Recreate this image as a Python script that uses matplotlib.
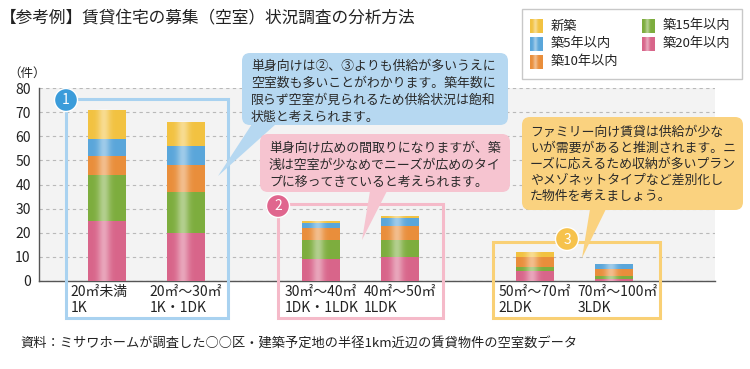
import numpy as np
import matplotlib
matplotlib.use('Agg')
import matplotlib.pyplot as plt
from matplotlib.patches import FancyBboxPatch, Rectangle, Circle, Polygon
import matplotlib.transforms as mtransforms

plt.rcParams['font.family'] = ['Noto Sans CJK JP', 'DejaVu Sans']

# data
categories = ['20㎡未満\n1K', '20㎡〜30㎡\n1K・1DK', '30㎡〜40㎡\n1DK・1LDK',
              '40㎡〜50㎡\n1LDK', '50㎡〜70㎡\n2LDK', '70㎡〜100㎡\n3LDK']
positions = [0, 1, 2.7, 3.7, 5.4, 6.4]
age20 = [25, 20, 9, 10, 4, 1]
age15 = [19, 17, 8, 7, 2, 1]
age10 = [8, 11, 5, 6, 4, 3]
age5 = [7, 8, 2, 3, 0, 2]
new = [12, 10, 1, 1, 2, 0]
series = [age20, age15, age10, age5, new]
series_names = ['築20年以内', '築15年以内', '築10年以内', '築5年以内', '新築']
colors = ['#d8658a', '#7dad3e', '#e98e3b', '#5aa6da', '#f2c241']
yticks = [0, 10, 20, 30, 40, 50, 60, 70, 80]

W, H = 750, 369
fig = plt.figure(figsize=(W / 100, H / 100), dpi=100)

def gloss(ax, x0, x1, y0, y1, z):
    t = np.linspace(0, 1, 80)
    a = 0.42 * np.exp(-((t - 0.42) / 0.16) ** 2)
    img = np.ones((1, 80, 4))
    img[0, :, 3] = a
    ax.imshow(img, extent=[x0, x1, y0, y1], aspect='auto', zorder=z,
              interpolation='bilinear')

# main chart
ax = fig.add_axes([39 / W, 1 - 281 / H, (715 - 39) / W, (281 - 88) / H])
ax.set_facecolor('#f3f3f3')
bw = 0.48
bottom = np.zeros(len(positions))
for vals, c in zip(series, colors):
    ax.bar(positions, vals, bw, bottom=bottom, color=c, zorder=3, linewidth=0)
    bottom += np.array(vals)
for p, tot in zip(positions, bottom):
    gloss(ax, p - bw / 2, p + bw / 2, 0, tot, 4)

ax.set_xlim(-0.86, 7.68)
ax.set_ylim(0, 80)
ax.set_yticks(yticks)
ax.set_xticks([])
ax.yaxis.grid(True, color='#b9b9b9', linestyle=(0, (3, 3)), linewidth=0.8)
ax.set_axisbelow(True)
for s in ['top', 'right']:
    ax.spines[s].set_visible(False)
for s in ['left', 'bottom']:
    ax.spines[s].set_color('#555555')
    ax.spines[s].set_linewidth(1)
ax.tick_params(axis='y', length=0, labelsize=10, labelcolor='#222222', pad=6)

trans = mtransforms.blended_transform_factory(ax.transData, ax.transAxes)
for p, lab in zip(positions, categories):
    ax.text(p - 0.46, -0.02, lab, transform=trans, ha='left', va='top',
            fontsize=10, color='#222222', linespacing=1.15)

# overlay in pixel coords
ov = fig.add_axes([0, 0, 1, 1], zorder=10)
ov.set_xlim(0, W)
ov.set_ylim(H, 0)
ov.axis('off')
ov.patch.set_alpha(0)

ov.text(0, 18, '【参考例】賃貸住宅の募集（空室）状況調査の分析方法', fontsize=12,
        va='center', ha='left', color='#222222')
ov.text(8, 73, '（件）', fontsize=9, va='center', ha='left', color='#222222')
ov.text(20, 344, '資料：ミサワホームが調査した○○区・建築予定地の半径1km近辺の賃貸物件の空室数データ',
        fontsize=9.5, va='center', ha='left', color='#222222')

# legend
ov.add_patch(Rectangle((522, 9), 220, 70, facecolor='white', edgecolor='#c8c8c8', lw=1))
leg = [(530, 26, '新築', colors[4]), (530, 44, '築5年以内', colors[3]),
       (530, 62, '築10年以内', colors[2]), (642, 26, '築15年以内', colors[1]),
       (642, 44, '築20年以内', colors[0])]
for lx, ly, name, c in leg:
    ov.add_patch(Rectangle((lx, ly - 7), 13, 14, facecolor=c, lw=0))
    gloss(ov, lx, lx + 13, ly + 7, ly - 7, 11)
    ov.text(lx + 21, ly, name, fontsize=9.5, va='center', ha='left', color='#222222')

# group frames
frames = [((66, 99, 228, 318), '#a9d2f0', '#3b9cda', '1', (66, 100)),
          ((278, 204, 443, 318), '#f5bac9', '#e0668e', '2', (278, 206)),
          ((493, 242, 660, 318), '#f9d075', '#f6c24c', '3', (567, 239))]
for (x0, y0, x1, y1), ec, bc, num, (cx, cy) in frames:
    ov.add_patch(Rectangle((x0, y0), x1 - x0, y1 - y0, facecolor='none',
                           edgecolor=ec, lw=2.2))
    ov.add_patch(Circle((cx, cy), 11.5, facecolor=bc, edgecolor='white', lw=1))
    ov.text(cx, cy + 0.5, num, color='white', fontsize=10, ha='center', va='center')

# callouts
callouts = [
    ((242, 53, 508, 125), '#b6d8f1', [(252, 124), (276, 124), (218, 176)], 251,
     [66, 83, 100, 117],
     ['単身向けは②、③よりも供給が多いうえに', '空室数も多いことがわかります。築年数に',
      '限らず空室が見られるため供給状況は飽和', '状態と考えられます。']),
    ((260, 134, 510, 192), '#f6c4d0', [(370, 191), (387, 191), (362, 240)], 269,
     [148, 165, 182],
     ['単身向け広めの間取りになりますが、築', '浅は空室が少なめでニーズが広めのタイ',
      'プに移ってきていると考えられます。']),
    ((522, 117, 743, 210), '#fad27f', [(590, 209), (606, 209), (582, 258)], 530,
     [132, 148, 164, 180, 196],
     ['ファミリー向け賃貸は供給が少な', 'いが需要があると推測されます。ニ',
      'ーズに応えるため収納が多いプラン', 'やメゾネットタイプなど差別化し',
      'た物件を考えましょう。']),
]
for (x0, y0, x1, y1), fc, tail, tx, tys, lines in callouts:
    ov.add_patch(FancyBboxPatch((x0, y0), x1 - x0, y1 - y0,
                                boxstyle='round,pad=0,rounding_size=8',
                                facecolor=fc, edgecolor='none'))
    ov.add_patch(Polygon(tail, closed=True, facecolor=fc, edgecolor='none'))
    for ty, line in zip(tys, lines):
        ov.text(tx, ty, line, fontsize=9.3, va='center', ha='left', color='#2a2a2a')

fig.savefig('out.png', dpi=100)
